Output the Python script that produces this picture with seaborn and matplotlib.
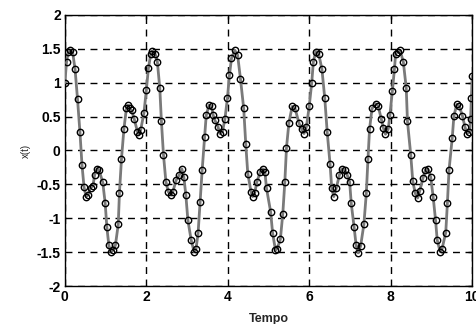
import numpy as np
import pandas as pd
import matplotlib
matplotlib.use("Agg")
import matplotlib.pyplot as plt
import seaborn as sns

# time samples (solver output, uneven spacing)
tempo = [
    0.00, 0.04, 0.08, 0.13, 0.19, 0.25, 0.31, 0.37, 0.42, 0.47,
    0.52, 0.57, 0.63, 0.69, 0.73, 0.79, 0.84, 0.93, 0.99, 1.03,
    1.08, 1.13, 1.18, 1.24, 1.31, 1.34, 1.39, 1.45, 1.51, 1.56,
    1.59, 1.64, 1.70, 1.78, 1.82, 1.86, 1.94, 2.00, 2.05, 2.11,
    2.15, 2.22, 2.27, 2.33, 2.37, 2.42, 2.48, 2.54, 2.61, 2.65,
    2.73, 2.81, 2.87, 2.92, 2.97, 3.02, 3.10, 3.17, 3.22, 3.27,
    3.32, 3.37, 3.43, 3.47, 3.54, 3.60, 3.64, 3.68, 3.76, 3.80,
    3.87, 3.93, 3.99, 4.04, 4.09, 4.17, 4.24, 4.31, 4.39, 4.44,
    4.49, 4.57, 4.61, 4.66, 4.71, 4.80, 4.86, 4.91, 4.95, 5.05,
    5.10, 5.17, 5.21, 5.29, 5.35, 5.40, 5.44, 5.50, 5.58, 5.65,
    5.75, 5.81, 5.87, 5.93, 6.00, 6.06, 6.10, 6.16, 6.23, 6.31,
    6.38, 6.44, 6.51, 6.55, 6.60, 6.66, 6.74, 6.80, 6.87, 6.93,
    6.99, 7.03, 7.10, 7.15, 7.20, 7.26, 7.34, 7.40, 7.44, 7.48,
    7.54, 7.63, 7.69, 7.77, 7.82, 7.87, 7.94, 7.98, 8.04, 8.09,
    8.12, 8.17, 8.23, 8.31, 8.38, 8.41, 8.49, 8.54, 8.60, 8.66,
    8.71, 8.79, 8.85, 8.91, 8.98, 9.04, 9.10, 9.14, 9.21, 9.26,
    9.35, 9.39, 9.43, 9.51, 9.55, 9.62, 9.68, 9.76, 9.82, 9.87,
    9.93, 9.96, 9.98, 10.00,
]

x_t = [
    1.00, 1.30, 1.45, 1.48, 1.45, 1.20, 0.76, 0.27, -0.21, -0.54,
    -0.68, -0.65, -0.55, -0.52, -0.36, -0.27, -0.29, -0.47, -0.78, -1.13,
    -1.40, -1.50, -1.47, -1.40, -1.09, -0.62, -0.12, 0.32, 0.62, 0.67,
    0.62, 0.59, 0.47, 0.28, 0.23, 0.30, 0.55, 0.89, 1.21, 1.43,
    1.47, 1.42, 1.31, 0.92, 0.43, -0.06, -0.46, -0.61, -0.66, -0.61,
    -0.44, -0.36, -0.27, -0.39, -0.66, -1.03, -1.32, -1.49, -1.45, -1.22,
    -0.76, -0.29, 0.20, 0.52, 0.67, 0.65, 0.52, 0.45, 0.35, 0.25,
    0.28, 0.47, 0.77, 1.11, 1.36, 1.48, 1.41, 1.06, 0.62, 0.10,
    -0.34, -0.61, -0.68, -0.63, -0.47, -0.31, -0.27, -0.31, -0.56, -0.90,
    -1.22, -1.47, -1.45, -1.31, -0.93, -0.46, 0.04, 0.41, 0.65, 0.62,
    0.40, 0.32, 0.25, 0.35, 0.66, 1.00, 1.31, 1.46, 1.43, 1.20,
    0.77, 0.27, -0.20, -0.55, -0.68, -0.56, -0.36, -0.27, -0.29, -0.36,
    -0.46, -0.78, -1.13, -1.40, -1.51, -1.41, -1.09, -0.63, -0.13, 0.32,
    0.62, 0.69, 0.66, 0.46, 0.33, 0.24, 0.32, 0.53, 0.88, 1.20,
    1.43, 1.46, 1.48, 1.30, 0.92, 0.43, -0.06, -0.45, -0.63, -0.70,
    -0.60, -0.41, -0.29, -0.27, -0.39, -0.68, -1.03, -1.32, -1.49, -1.45,
    -1.21, -0.78, -0.29, 0.19, 0.51, 0.68, 0.66, 0.51, 0.35, 0.25,
    0.27, 0.47, 0.77, 1.10,
]

x_ticks = [0, 2, 4, 6, 8, 10]
y_ticks = [-2, -1.5, -1, -0.5, 0, 0.5, 1, 1.5, 2]
y_tick_labels = ["-2", "-1.5", "-1", "-0.5", "0", "0.5", "1", "1.5", "2"]

df = pd.DataFrame({"Tempo": tempo, "x(t)": x_t})

sns.set_style("white")
plt.rcParams["font.family"] = ["Liberation Sans", "DejaVu Sans"]

fig = plt.figure(figsize=(4.77, 3.24), dpi=100)
ax = fig.add_axes([0.136, 0.117, 0.854, 0.837])

# grey line underneath, open black circles on top
sns.lineplot(data=df, x="Tempo", y="x(t)", ax=ax, color="#7a7a7a",
             linewidth=2.0, sort=False, zorder=3)
ax.plot(df["Tempo"], df["x(t)"], linestyle="none", marker="o",
        markersize=4.6, markerfacecolor="none", markeredgecolor="black",
        markeredgewidth=1.0, zorder=4)

ax.set_xlim(0, 10)
ax.set_ylim(-2, 2)
ax.set_xticks(x_ticks)
ax.set_yticks(y_ticks)
ax.set_yticklabels(y_tick_labels)

ax.grid(True, color="black", linestyle=(0, (5, 4)), linewidth=1.0)
ax.set_axisbelow(True)
for s in ax.spines.values():
    s.set_color("black")
    s.set_linewidth(1.0)
    s.set_visible(True)

ax.tick_params(direction="in", length=3, width=1, top=True, right=True,
               labelsize=10, colors="black", pad=3)
for lab in ax.get_xticklabels() + ax.get_yticklabels():
    lab.set_fontweight("bold")

ax.set_xlabel("Tempo", fontsize=9, fontweight="bold", labelpad=6)
ax.set_ylabel("x(t)", fontsize=7, labelpad=4)

plt.savefig("out.png", dpi=100)
